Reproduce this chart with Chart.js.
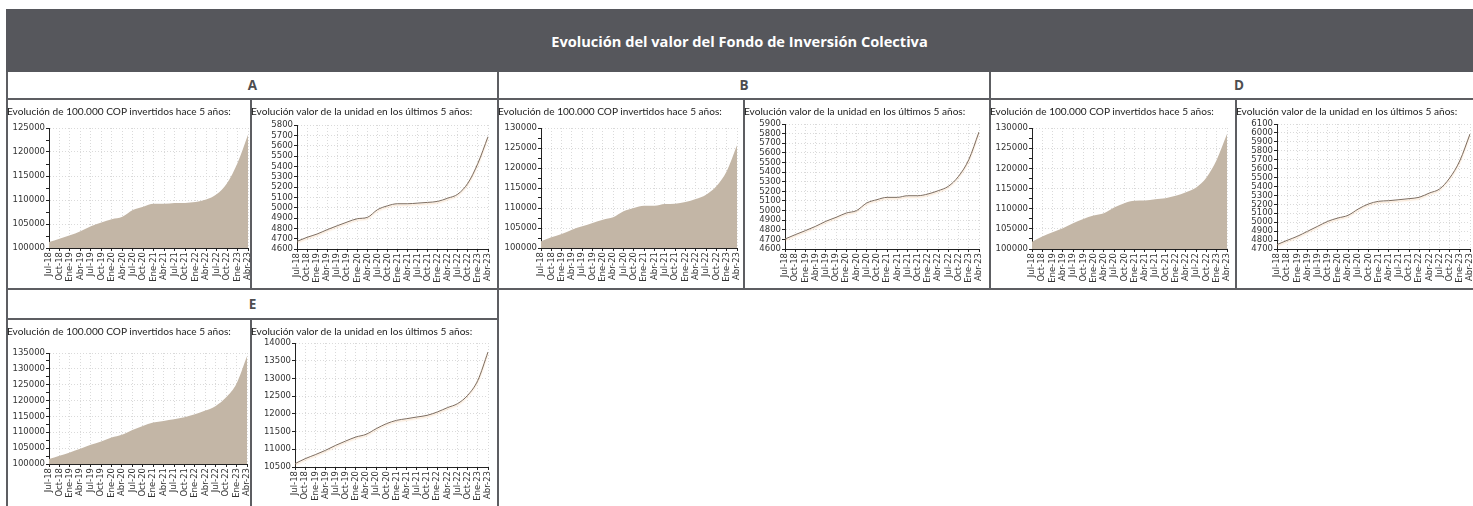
<!DOCTYPE html>
<html><head><meta charset="utf-8">
<script src="https://cdn.jsdelivr.net/npm/chart.js@4.4.0/dist/chart.umd.min.js"></script>
<style>
html,body{margin:0;padding:0;background:#fff;width:1473px;height:506px;overflow:hidden;position:relative;font-family:'Open Sans',sans-serif;}
.abs{position:absolute;box-sizing:border-box;}
.hdr{left:6px;top:9px;width:1467px;height:63px;background:#56575c;color:#fff;font-weight:700;font-size:14.6px;display:flex;align-items:center;justify-content:center;z-index:3;}
.lbl{border:2px solid #5d5e62;background:#fff;font-weight:700;font-size:13.5px;color:#4d4d4f;display:flex;align-items:center;justify-content:center;}
.box{border:2px solid #5d5e62;background:#fff;}
.ttl{font-family:Lato,sans-serif;font-size:10.1px;line-height:12px;color:#222;white-space:nowrap;z-index:2;}
canvas{position:absolute;z-index:1;}
</style>
</head>
<body>
<script>
// ---- Data ----
const etiquetas = ['Jul-18','Oct-18','Ene-19','Abr-19','Jul-19','Oct-19','Ene-20','Abr-20','Jul-20','Oct-20','Ene-21','Abr-21','Jul-21','Oct-21','Ene-22','Abr-22','Jul-22','Oct-22','Ene-23','Abr-23'];
const fondos = ['A','B','D','E'];
const tituloGeneral = 'Evolución del valor del Fondo de Inversión Colectiva';
const tituloInversion = 'Evolución de 100.000 COP invertidos hace 5 años:';
const tituloUnidad = 'Evolución valor de la unidad en los últimos 5 años:';

const inversionA = [101260,101950,102650,103500,104540,105300,106000,106500,107900,108600,109200,109200,109350,109400,109600,110100,111200,113500,117700,123600];
const unidadA    = [4674,4713,4745,4787,4825,4861,4893,4906,4980,5018,5038,5038,5044,5051,5061,5092,5131,5237,5430,5687];
const inversionB = [101670,102670,103500,104580,105420,106250,107080,107670,109170,110000,110580,110580,111000,111080,111500,112250,113330,115420,119170,125670];
const unidadB    = [4704,4749,4791,4836,4888,4929,4974,4999,5078,5113,5137,5137,5154,5154,5172,5206,5252,5356,5529,5817];
const inversionD = [101820,103070,104150,105140,106380,107460,108290,108870,110280,111360,111940,112020,112350,112600,113180,114090,115250,117740,122130,128510];
const unidadD    = [4749,4797,4842,4898,4954,5010,5047,5077,5148,5204,5234,5241,5252,5264,5279,5327,5372,5495,5689,5988];
const inversionE = [101570,102610,103660,104810,106060,107110,108360,109200,110760,112020,113060,113590,114110,114740,115680,116830,118290,121010,125400,133970];
const unidadE    = [10594,10735,10848,10970,11111,11234,11347,11422,11582,11723,11817,11864,11911,11958,12052,12175,12288,12523,12946,13746];

// y-axis ranges: [min, max, step, labelEvery]
const ejeInversionA = [100000,125000,2500,5000];
const ejeUnidadA    = [4600,5800,100,100];
const ejeInversionB = [100000,130000,2500,5000];
const ejeUnidadB    = [4600,5900,100,100];
const ejeInversionD = [100000,130000,2500,5000];
const ejeUnidadD    = [4700,6100,100,100];
const ejeInversionE = [100000,135000,2500,5000];
const ejeUnidadE    = [10500,14000,500,500];

// ---- Layout ----
function el(cls, css, text){
  const d=document.createElement('div'); d.className='abs '+cls;
  Object.assign(d.style, css); if(text) d.textContent=text; document.body.appendChild(d); return d;
}
el('hdr',{},tituloGeneral);
el('lbl',{left:'6px',top:'70px',width:'493px',height:'30px'},fondos[0]);
el('lbl',{left:'497px',top:'70px',width:'494px',height:'30px'},fondos[1]);
el('lbl',{left:'989px',top:'70px',width:'500px',height:'30px'},fondos[2]);
el('lbl',{left:'6px',top:'288px',width:'493px',height:'32px'},fondos[3]);

const boxes = [
  {l:6,t:98,w:246,h:192},{l:250,t:98,w:249,h:192},
  {l:497,t:98,w:248,h:192},{l:743,t:98,w:248,h:192},
  {l:989,t:98,w:248,h:192},{l:1235,t:98,w:260,h:192},
  {l:6,t:318,w:246,h:200},{l:250,t:318,w:249,h:200}
];
boxes.forEach(b=>el('box',{left:b.l+'px',top:b.t+'px',width:b.w+'px',height:b.h+'px'}));

const glow = {
  id:'glow',
  beforeDatasetDraw(chart){ if(chart.config.options.glowLine){ const c=chart.ctx; c.save(); c.shadowColor='rgba(240,180,120,0.45)'; c.shadowBlur=1.5; c.shadowOffsetY=1.5; } },
  afterDatasetDraw(chart){ if(chart.config.options.glowLine){ chart.ctx.restore(); } }
};

function grafico(g, titulo, valores, eje, area){
  el('ttl',{left:(g.x-1)+'px',top:(g.y+5)+'px'},titulo);
  const cv=document.createElement('canvas');
  cv.width=g.w; cv.height=g.h; cv.style.left=g.x+'px'; cv.style.top=g.y+'px';
  cv.style.width=g.w+'px'; cv.style.height=g.h+'px';
  document.body.appendChild(cv);
  const tickFont={family:'DejaVu Sans',size:8.5};
  new Chart(cv,{
    type:'line',
    data:{labels:etiquetas,datasets:[{
      data:valores,
      fill: area ? 'start' : false,
      backgroundColor:'#c3b6a6',
      borderColor: area ? '#c3b6a6' : '#7d6d60',
      borderWidth: area ? 0 : 1,
      pointRadius:0, cubicInterpolationMode:'monotone'
    }]},
    plugins:[glow],
    options:{
      glowLine: !area,
      responsive:false, animation:false, devicePixelRatio:1,
      events:[],
      layout:{padding:{top:g.pt,right:g.pr,bottom:0,left:0}},
      plugins:{legend:{display:false},tooltip:{enabled:false},title:{display:false}},
      scales:{
        x:{
          type:'category', offset:false,
          grid:{color:'#dadada',lineWidth:1,tickColor:'#222',tickLength:3},
          border:{display:true,color:'#222',width:1,dash:[1,2]},
          ticks:{autoSkip:false,minRotation:90,maxRotation:90,padding:1,color:'#333',font:tickFont},
          afterFit(s){ s.height=g.xh; s.paddingLeft=0; s.paddingRight=0; }
        },
        y:{
          min:eje[0], max:eje[1],
          grid:{color:(c)=> (c.tick && c.tick.value % eje[3]===0) ? '#dadada' : 'rgba(0,0,0,0)', lineWidth:1, tickColor:'#222', tickLength:3},
          border:{display:true,color:'#222',width:1,dash:[1,2]},
          ticks:{stepSize:eje[2],autoSkip:false,padding:1,color:'#333',font:tickFont,
            callback:(v)=> (v % eje[3]===0) ? String(v) : ''},
          afterFit(s){ s.width=g.yw; s.paddingTop=0; s.paddingBottom=0; }
        }
      }
    }
  });
}

// geometry: canvas x,y,w,h ; y-axis width ; x-axis height ; pad top ; pad right
grafico({x:8,y:100,w:242,h:188,yw:41,xh:40,pt:28,pr:2}, tituloInversion, inversionA, ejeInversionA, true);
grafico({x:252,y:100,w:245,h:188,yw:45,xh:39,pt:25,pr:9}, tituloUnidad, unidadA, ejeUnidadA, false);
grafico({x:499,y:100,w:244,h:188,yw:42,xh:40,pt:28,pr:6}, tituloInversion, inversionB, ejeInversionB, true);
grafico({x:745,y:100,w:244,h:188,yw:40,xh:39,pt:24,pr:10}, tituloUnidad, unidadB, ejeUnidadB, false);
grafico({x:991,y:100,w:244,h:188,yw:41,xh:39,pt:28,pr:8}, tituloInversion, inversionD, ejeInversionD, true);
grafico({x:1237,y:100,w:236,h:188,yw:40,xh:39,pt:24,pr:3}, tituloUnidad, unidadD, ejeUnidadD, false);
grafico({x:8,y:320,w:242,h:186,yw:41,xh:42,pt:33,pr:3}, tituloInversion, inversionE, ejeInversionE, true);
grafico({x:252,y:320,w:245,h:186,yw:43,xh:39,pt:23,pr:9}, tituloUnidad, unidadE, ejeUnidadE, false);
</script>
</body></html>
